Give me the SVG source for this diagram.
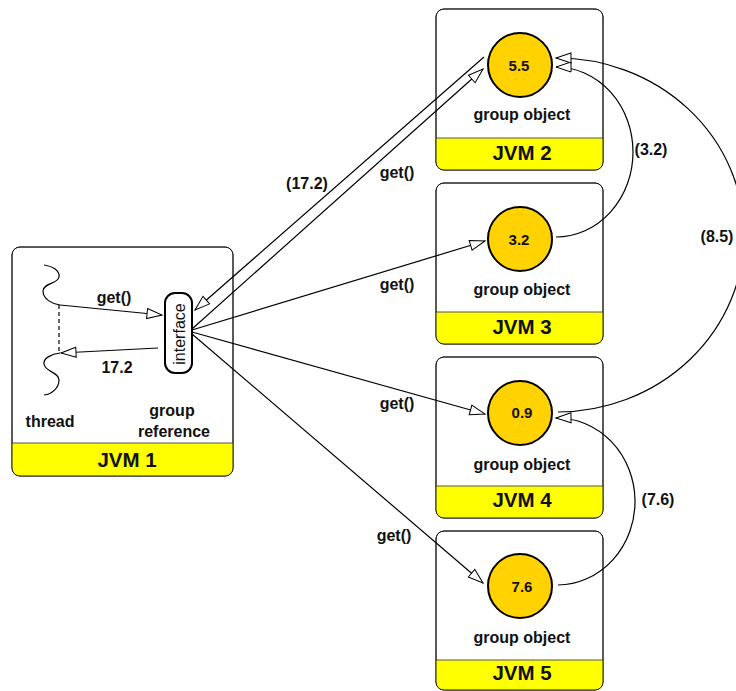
<svg xmlns="http://www.w3.org/2000/svg" width="736" height="691" viewBox="0 0 736 691">
<style>
text{font-family:"Liberation Sans",Arial,sans-serif;font-weight:bold;font-size:16px;fill:#111;text-anchor:middle}
.jvm{font-size:20.5px}
.val{font-size:15px}
.iface{font-weight:normal;font-size:16px}
.box{fill:#fff;stroke:#222;stroke-width:1}
.outline{fill:none;stroke:#222;stroke-width:1}
.band{fill:#ffff00}
.sep{stroke:#555;stroke-width:1}
.obj{fill:#ffd200;stroke:#000;stroke-width:2}
.c{fill:none;stroke:#000;stroke-width:1.2}
.ca{fill:none;stroke:#000;stroke-width:1.2;marker-end:url(#ah)}
.dash{fill:none;stroke:#000;stroke-width:1.2;stroke-dasharray:4 3}
</style>
<defs>
<marker id="ah" markerUnits="userSpaceOnUse" markerWidth="18" markerHeight="12" refX="15" refY="5" orient="auto" viewBox="-1 -1 18 12">
<path d="M0,0 L15,5 L0,10 Z" fill="#fff" stroke="#000" stroke-width="1"/>
</marker>
</defs>

<g id="jvm1">
<rect class="box" x="12" y="247" width="221" height="229" rx="8"/>
<path class="band" d="M12,443 H233 V468 A8,8 0 0 1 225,476 H20 A8,8 0 0 1 12,468 Z"/>
<line class="sep" x1="12" y1="443" x2="233" y2="443"/>
<rect class="outline" x="12" y="247" width="221" height="229" rx="8"/>
<text class="jvm" x="127" y="467">JVM 1</text>
<text x="50" y="427">thread</text>
<text x="172" y="416">group</text>
<text x="174" y="437">reference</text>
</g>

<g id="thread">
<path class="c" d="M44,265 C52,266 60,270 59,277 C58,284 43,283 43,291 C43,299 52,304 60,305"/>
<path class="c" d="M60,353 C52,354 43,358 44,364 C45,372 59,372 59,380 C59,388 52,394 44,395"/>
<line class="dash" x1="59" y1="305" x2="59" y2="353"/>
</g>

<g id="interface">
<rect x="165" y="293" width="27" height="80" rx="10" fill="#fff" stroke="#000" stroke-width="2"/>
<text class="iface" transform="translate(185,334) rotate(-90)">interface</text>
</g>

<g id="jvm2">
<rect class="box" x="436" y="9" width="167" height="161" rx="8"/>
<path class="band" d="M436,138 H603 V162 A8,8 0 0 1 595,170 H444 A8,8 0 0 1 436,162 Z"/>
<line class="sep" x1="436" y1="138" x2="603" y2="138"/>
<rect class="outline" x="436" y="9" width="167" height="161" rx="8"/>
<circle class="obj" cx="520" cy="65" r="32"/>
<text class="val" x="519" y="71">5.5</text>
<text x="522" y="120">group object</text>
<text class="jvm" x="522" y="160">JVM 2</text>
</g>

<g id="jvm3">
<rect class="box" x="436" y="183" width="167" height="161" rx="8"/>
<path class="band" d="M436,312 H603 V336 A8,8 0 0 1 595,344 H444 A8,8 0 0 1 436,336 Z"/>
<line class="sep" x1="436" y1="312" x2="603" y2="312"/>
<rect class="outline" x="436" y="183" width="167" height="161" rx="8"/>
<circle class="obj" cx="520" cy="239" r="32"/>
<text class="val" x="519" y="245">3.2</text>
<text x="522" y="295">group object</text>
<text class="jvm" x="522" y="334">JVM 3</text>
</g>

<g id="jvm4">
<rect class="box" x="436" y="357" width="167" height="161" rx="8"/>
<path class="band" d="M436,486 H603 V510 A8,8 0 0 1 595,518 H444 A8,8 0 0 1 436,510 Z"/>
<line class="sep" x1="436" y1="486" x2="603" y2="486"/>
<rect class="outline" x="436" y="357" width="167" height="161" rx="8"/>
<circle class="obj" cx="520" cy="413" r="32"/>
<text class="val" x="522" y="418">0.9</text>
<text x="522" y="470">group object</text>
<text class="jvm" x="522" y="507">JVM 4</text>
</g>

<g id="jvm5">
<rect class="box" x="436" y="531" width="167" height="159" rx="8"/>
<path class="band" d="M436,660 H603 V682 A8,8 0 0 1 595,690 H444 A8,8 0 0 1 436,682 Z"/>
<line class="sep" x1="436" y1="660" x2="603" y2="660"/>
<rect class="outline" x="436" y="531" width="167" height="159" rx="8"/>
<circle class="obj" cx="520" cy="586" r="32"/>
<text class="val" x="522" y="592">7.6</text>
<text x="522" y="643">group object</text>
<text class="jvm" x="522" y="680">JVM 5</text>
</g>

<g id="connectors">
<line class="ca" x1="60" y1="305" x2="162" y2="315"/>
<line class="ca" x1="158" y1="348" x2="61" y2="353"/>
<line class="ca" x1="484" y1="57" x2="195" y2="310"/>
<line class="ca" x1="192" y1="329" x2="483" y2="69"/>
<line class="ca" x1="192" y1="330" x2="485" y2="241"/>
<line class="ca" x1="192" y1="332" x2="485" y2="414"/>
<line class="ca" x1="192" y1="334" x2="483" y2="583"/>
<path class="ca" d="M556,237 A77,85 0 0 0 556,67"/>
<path class="ca" d="M558,412 A187,177 0 0 0 556,58"/>
<path class="ca" d="M558,585 A78,83.5 0 0 0 556,418"/>
<text x="114" y="303">get()</text>
<text x="117" y="373">17.2</text>
<text x="307" y="189">(17.2)</text>
<text x="397" y="178">get()</text>
<text x="397" y="290">get()</text>
<text x="397" y="409">get()</text>
<text x="394" y="541">get()</text>
<text x="651" y="155">(3.2)</text>
<text x="717" y="242">(8.5)</text>
<text x="658" y="505">(7.6)</text>
</g>
</svg>
